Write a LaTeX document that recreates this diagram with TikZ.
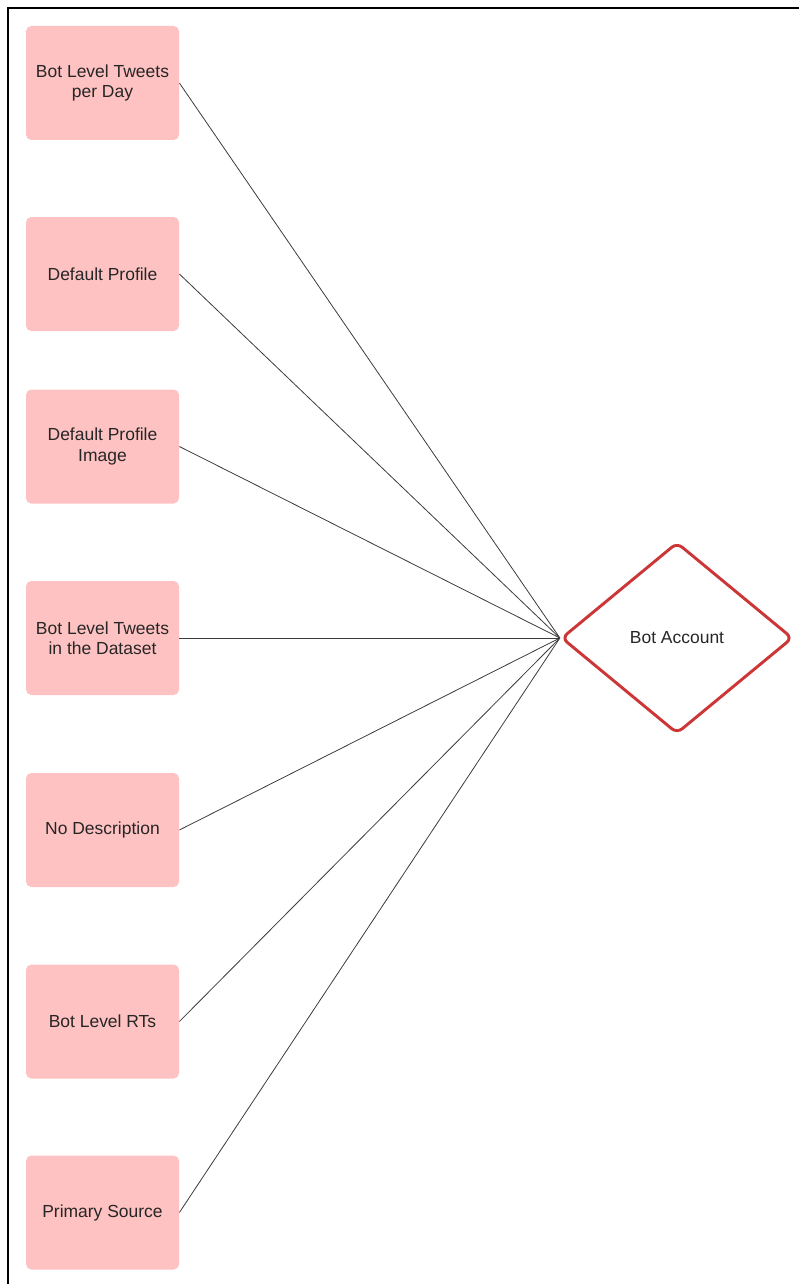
\documentclass[tikz,border=0pt]{standalone}
\usepackage{fontspec}
\setmainfont{Liberation Sans}
\usetikzlibrary{shapes.geometric,positioning}
\definecolor{featfill}{RGB}{255,194,194}
\definecolor{botred}{RGB}{204,54,54}
\definecolor{linkgray}{RGB}{60,60,60}
\definecolor{txtgray}{RGB}{38,38,38}
\tikzset{
	defaultstyle/.style={
		x=0.75pt,
		y=-0.75pt,
		semithick,
		font=\fontsize{13.1}{15.2}\selectfont,
		text=txtgray}}

\begin{document}
\begin{tikzpicture}[defaultstyle,
	every text node part/.style={align=center},
	feature/.style={rectangle, rounded corners=4pt, fill=featfill, inner sep=0pt,
		minimum width=114.75pt, minimum height=85.5pt},
	decision/.style={diamond, draw=botred, line width=2.2pt, rounded corners=5pt,
		inner sep=0pt, minimum width=173.5pt, minimum height=143.5pt},
	link/.style={draw=linkgray, line width=0.6pt},
	]

	\useasboundingbox (0,0) rectangle (799,1284);
	\draw[line width=1.7pt] (8,1284) -- (8,8) -- (799,8);

	\node[feature] (f1) at (102.5, 83) {Bot Level Tweets\\per Day};
	\node[feature] (f2) at (102.5, 274) {Default Profile};
	\node[feature] (f3) at (102.5, 446.5) {Default Profile\\Image};
	\node[feature] (f4) at (102.5, 638) {Bot Level Tweets\\in the Dataset};
	\node[feature] (f5) at (102.5, 830) {No Description};
	\node[feature] (f6) at (102.5, 1021.5) {Bot Level RTs};
	\node[feature] (f7) at (102.5, 1212.5) {Primary Source};

	\node[decision] (bot) at (677, 638) {Bot Account};

	\draw[link] (f1.east) -- (bot.west);
	\draw[link] (f2.east) -- (bot.west);
	\draw[link] (f3.east) -- (bot.west);
	\draw[link] (f4.east) -- (bot.west);
	\draw[link] (f5.east) -- (bot.west);
	\draw[link] (f6.east) -- (bot.west);
	\draw[link] (f7.east) -- (bot.west);

\end{tikzpicture}
\end{document}
